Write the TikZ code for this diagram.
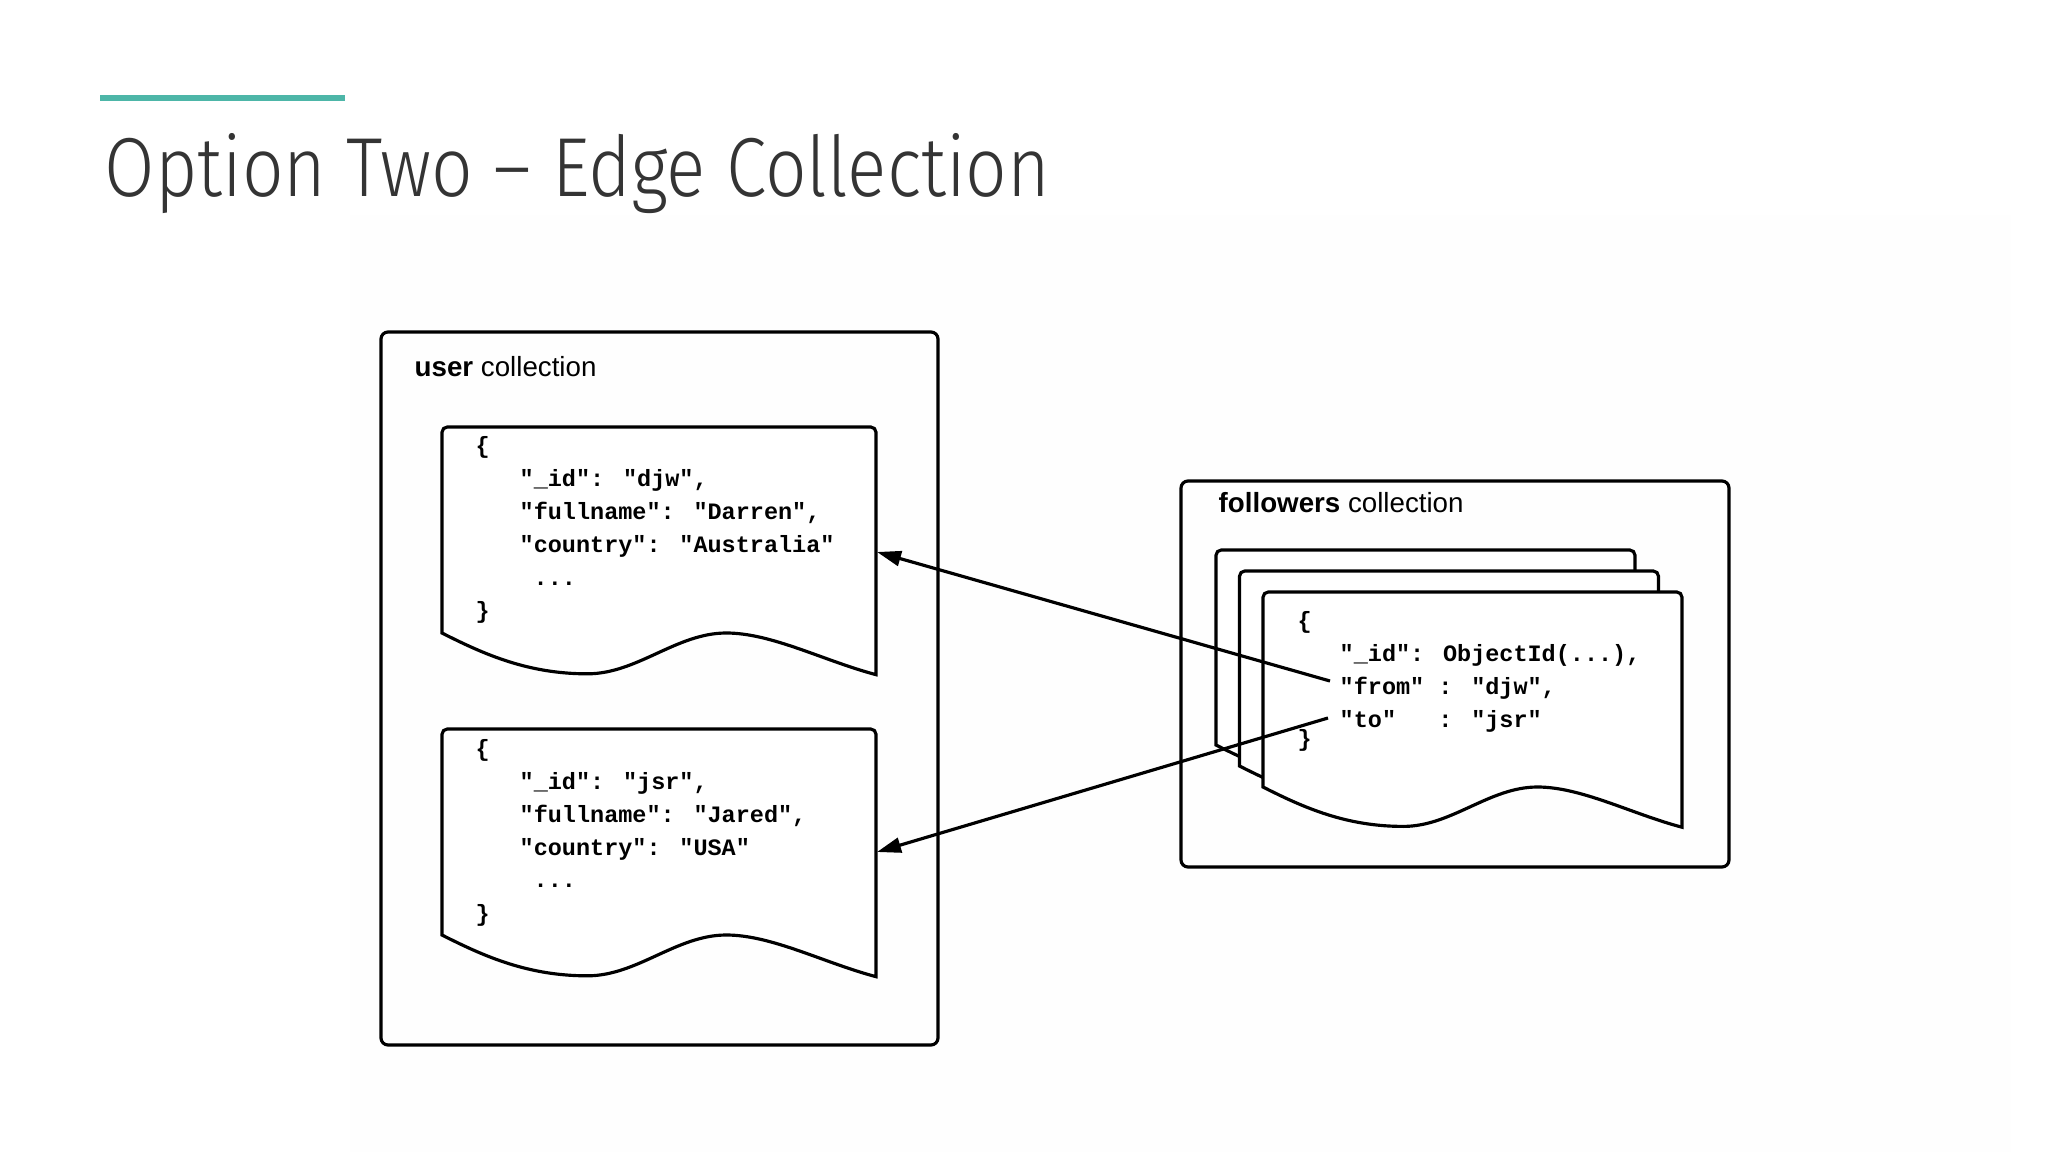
\documentclass[tikz,border=0pt]{standalone}
\usepackage{fontspec}
\setmainfont{Liberation Sans}
\newfontfamily\codefont{Liberation Mono}
\newfontfamily\titlefont[FakeStretch=0.8]{Fira Sans Light}
\usetikzlibrary{arrows.meta}
\definecolor{teal}{RGB}{77,182,168}
\definecolor{titlegray}{RGB}{52,52,52}
\definecolor{panel}{RGB}{254,254,254}
\tikzset{
  box/.style={draw, line width=0.9pt, rounded corners=2pt},
  docpath/.style={draw, fill=white, line width=0.9pt, line join=miter},
  code/.style={font=\codefont\bfseries\fontsize{6.68}{8}\selectfont, anchor=base west, inner sep=0pt},
  lbl/.style={font=\fontsize{7.88}{9}\selectfont, anchor=base west, inner sep=0pt},
  link/.style={line width=0.9pt, -{Triangle[length=0.24cm,width=0.15cm]}}
}
% #1 left, #2 top, #3 width, #4 height to left bottom corner
\newcommand\docshape[4]{%
  \pgfmathsetmacro\dL{#1}\pgfmathsetmacro\dT{#2}\pgfmathsetmacro\dW{#3}%
  \pgfmathsetmacro\dB{#2+#4}\pgfmathsetmacro\dA{0.096*#3}%
  \draw[docpath] (\dL,\dB) [rounded corners=1.5pt] -- (\dL,\dT) -- (\dL+\dW,\dT) [sharp corners] -- (\dL+\dW,\dB+\dA)
    .. controls (\dL+0.88*\dW,\dB+0.67*\dA) and (\dL+0.76*\dW,\dB) .. (\dL+0.655*\dW,\dB)
    .. controls (\dL+0.54*\dW,\dB) and (\dL+0.45*\dW,\dB+0.98*\dA) .. (\dL+0.335*\dW,\dB+0.98*\dA)
    .. controls (\dL+0.2*\dW,\dB+0.98*\dA) and (\dL+0.1*\dW,\dB+0.53*\dA) .. cycle;%
}
\begin{document}
\begin{tikzpicture}[x=0.01cm,y=-0.01cm]
\useasboundingbox (0,0) rectangle (2048,1152);
\fill[white] (0,0) rectangle (2048,1152);
\fill[panel] (350,215) rectangle (2011,1152);

% title
\fill[teal] (100,95.5) rectangle (345,101.5);
\node[anchor=base west, inner sep=0pt, text=titlegray] (title) at (104,197)
  {\resizebox{9.45cm}{0.63cm}{\titlefont Option Two – Edge Collection}};

% user collection
\draw[box] (381,332) rectangle (938,1045);
\node[lbl] (ulabel) at (414,377) {\textbf{user} collection};

\docshape{442}{427}{434}{206}
\node[code] (u1a) at (475,454) {\{};
\node[code] (u1b) at (519,487) {"\_id": "djw",};
\node[code] (u1c) at (519,520) {"fullname": "Darren",};
\node[code] (u1d) at (519,553) {"country": "Australia"};
\node[code] (u1e) at (533,585) {...};
\node[code] (u1f) at (475,619) {\}};

\docshape{442}{729}{434}{206}
\node[code] (u2a) at (475,756) {\{};
\node[code] (u2b) at (519,789) {"\_id": "jsr",};
\node[code] (u2c) at (519,822) {"fullname": "Jared",};
\node[code] (u2d) at (519,855) {"country": "USA"};
\node[code] (u2e) at (533,887) {...};
\node[code] (u2f) at (475,921) {\}};

% followers collection
\draw[box] (1181,481) rectangle (1729,867);
\node[lbl] (flabel) at (1218,512) {\textbf{followers} collection};

\docshape{1216}{550}{419}{195}
\docshape{1239.5}{571}{419}{195}
\docshape{1263}{592}{419}{195}
\node[code] (fa) at (1297,629) {\{};
\node[code] (fb) at (1339,662) {"\_id": ObjectId(...),};
\node[code] (fc) at (1339,694) {"from" : "djw",};
\node[code] (fd) at (1339,727) {"to"\ \ \ : "jsr"};
\node[code] (fe) at (1297,746) {\}};

% connectors
\coordinate (fromend) at (1330,681);
\coordinate (toend) at (1328,718);
\coordinate (djwin) at (877,552);
\coordinate (jsrin) at (877,852);
\draw[link] (fromend) -- (djwin);
\draw[link] (toend) -- (jsrin);
\end{tikzpicture}
\end{document}
